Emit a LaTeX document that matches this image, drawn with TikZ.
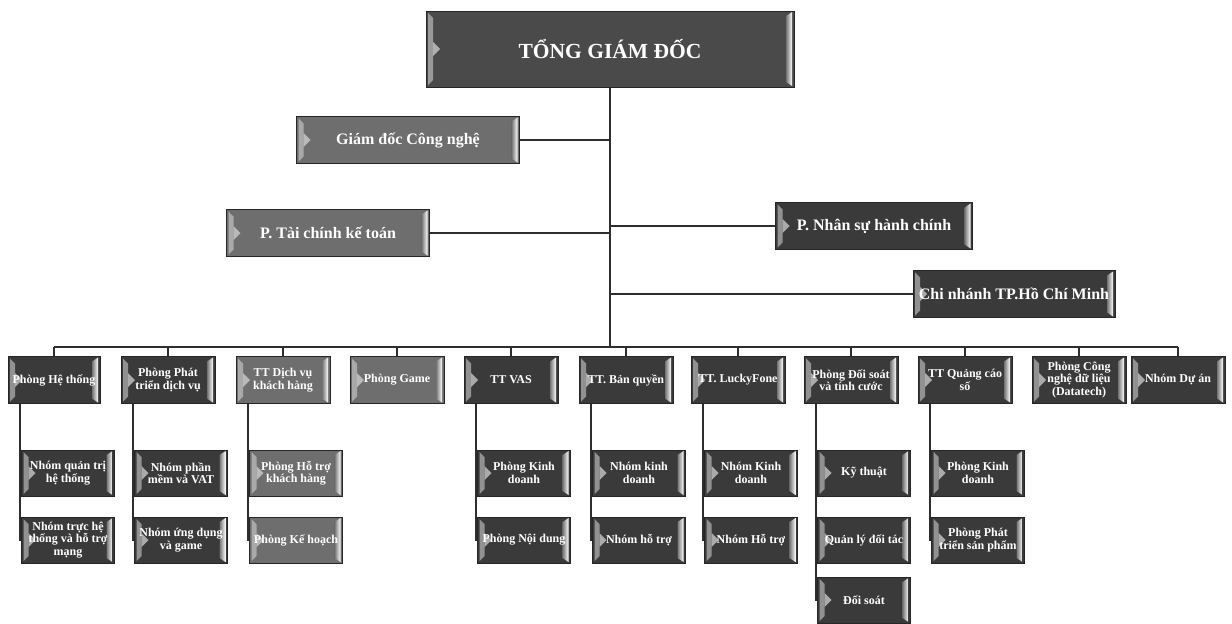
\documentclass[tikz,border=0pt]{standalone}
\usepackage{fontspec}
\setmainfont{Liberation Serif}
\usepackage{tikz}
\usetikzlibrary{calc, backgrounds}
\definecolor{orgDark}{HTML}{3A3A3A}
\definecolor{orgGrey}{HTML}{6E6E6E}
\definecolor{orgTop}{HTML}{4A4A4A}
\definecolor{orgLine}{HTML}{2E2E2E}
\definecolor{orgShine}{HTML}{DADADA}

\begin{document}
\begin{tikzpicture}[x=1pt, y=-1pt,
  bevel/.style={path picture={
    \fill[orgShine, opacity=0.55] ([shift={(2pt,-2pt)}]path picture bounding box.north west) -- ++(5pt,-5pt)
      -- ([shift={(7pt,7pt)}]path picture bounding box.south west) -- ++(-5pt,-5pt) -- cycle;
    \fill[orgShine, opacity=0.7] ([shift={(7pt,7pt)}]path picture bounding box.west) -- ++(7pt,-7pt) -- ++(-7pt,-7pt) -- cycle;
    \shade[left color=black!55, right color=white] ([shift={(-8pt,-5pt)}]path picture bounding box.north east)
      -- ([shift={(-2pt,-1pt)}]path picture bounding box.north east) -- ([shift={(-2pt,1pt)}]path picture bounding box.south east)
      -- ([shift={(-8pt,5pt)}]path picture bounding box.south east) -- cycle;
  }},
  unit/.style={
    bevel, draw=black!85, line width=0.8pt, fill=orgDark, text=white,
    font=\bfseries\fontsize{12}{12.5}\selectfont, align=center,
    minimum width=94pt, minimum height=47pt, inner sep=1pt
  },
  subunit/.style={unit, minimum width=93pt, minimum height=46pt},
  pale/.style={fill=orgGrey},
  office/.style={unit, font=\bfseries\fontsize{16}{18}\selectfont},
  head/.style={unit, fill=orgTop, font=\bfseries\fontsize{21.5}{24}\selectfont,
    minimum width=368pt, minimum height=76pt},
  link/.style={draw=orgLine, line width=2pt},
  trunk/.style={link, line width=2.8pt}
]
  \useasboundingbox (0,0) rectangle (1232,624);
  % top level
  \node[head] (tgd) at (610,49) {TỔNG GIÁM ĐỐC};
  \node[office, pale, minimum width=223pt] (gdcn) at (408,140) {Giám đốc Công nghệ};
  \node[office, pale, minimum width=203pt] (tckt) at (328,233) {P. Tài chính kế toán};
  \node[office, minimum width=197pt] (nshc) at (874,226) {P. Nhân sự hành chính};
  \node[office, minimum width=202pt] (cn) at (1014,294) {Chi nhánh TP.Hồ Chí Minh};
  \coordinate (bus) at (610,347);

  % units
  \node[unit, minimum width=92pt] (ht) at (54,380) {Phòng Hệ thống};
  \node[unit] (ptdv) at (168,380) {Phòng Phát\\triển dịch vụ};
  \node[unit, pale] (dvkh) at (283,380) {TT Dịch vụ\\khách hàng};
  \node[unit, pale] (game) at (397,380) {Phòng Game};
  \node[unit] (vas) at (511,380) {TT VAS};
  \node[unit] (bq) at (626,380) {TT. Bản quyền};
  \node[unit] (lf) at (738,380) {TT. LuckyFone};
  \node[unit] (dstc) at (851,380) {Phòng Đối soát\\và tính cước};
  \node[unit] (qcs) at (965,380) {TT Quảng cáo\\số};
  \node[unit] (dt) at (1079,380) {Phòng Công\\nghệ dữ liệu\\(Datatech)};
  \node[unit] (da) at (1178,380) {Nhóm Dự án};

  % sub units
  \node[subunit] (ht1) at (68,473) {Nhóm quản trị\\hệ thống};
  \node[subunit] (ht2) at (68,540) {Nhóm trực hệ\\thống và hỗ trợ\\mạng};
  \node[subunit] (ptdv1) at (181,473) {Nhóm phần\\mềm và VAT};
  \node[subunit] (ptdv2) at (181,540) {Nhóm ứng dụng\\và game};
  \node[subunit, pale] (dvkh1) at (296,473) {Phòng Hỗ trợ\\khách hàng};
  \node[subunit, pale] (dvkh2) at (296,540) {Phòng Kế hoạch};
  \node[subunit] (vas1) at (524,473) {Phòng Kinh\\doanh};
  \node[subunit] (vas2) at (524,540) {Phòng Nội dung};
  \node[subunit] (bq1) at (639,473) {Nhóm kinh\\doanh};
  \node[subunit] (bq2) at (639,540) {Nhóm hỗ trợ};
  \node[subunit] (lf1) at (751,473) {Nhóm Kinh\\doanh};
  \node[subunit] (lf2) at (751,540) {Nhóm Hỗ trợ};
  \node[subunit] (ds1) at (864,473) {Kỹ thuật};
  \node[subunit] (ds2) at (864,540) {Quản lý đối tác};
  \node[subunit] (ds3) at (864,600) {Đối soát};
  \node[subunit] (qc1) at (978,473) {Phòng Kinh\\doanh};
  \node[subunit] (qc2) at (978,540) {Phòng Phát\\triển sản phẩm};

  \begin{scope}[on background layer]
    \fill[white] (0,0) rectangle (1232,624);
    \draw[trunk] (tgd.south) -- (bus);
    \draw[link] (gdcn.east) -- (gdcn.east -| bus);
    \draw[link] (tckt.east) -- (tckt.east -| bus);
    \draw[link] (nshc.west) -- (nshc.west -| bus);
    \draw[link] (cn.west) -- (cn.west -| bus);
    \draw[link] (ht.north |- bus) -- (da.north |- bus);
    \foreach \boss in {ht,ptdv,dvkh,game,vas,bq,lf,dstc,qcs,dt,da}
      \draw[link] (\boss.north) -- (\boss.north |- bus);
    \foreach \boss/\kid in {ht/ht2, ptdv/ptdv2, dvkh/dvkh2, vas/vas2, bq/bq2, lf/lf2, dstc/ds3, qcs/qc2}
      \draw[link] ([xshift=12.5pt]\boss.south west) |- (\kid.west);
  \end{scope}
\end{tikzpicture}
\end{document}
